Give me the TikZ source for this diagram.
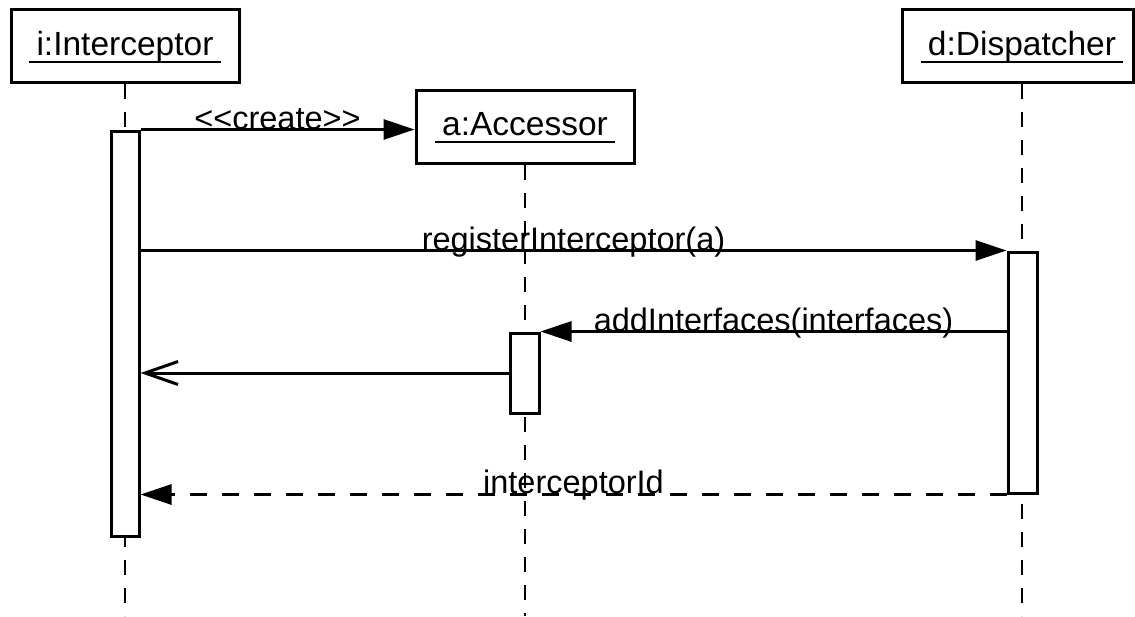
\documentclass[tikz,border=0pt]{standalone}
\usepackage{fontspec}
\setmainfont[Ligatures=NoCommon]{Liberation Sans}
\usetikzlibrary{arrows.meta}
\begin{document}
\begin{tikzpicture}[x=1pt,y=-1pt,
  objbox/.style={draw, line width=3pt, fill=white, rectangle, inner sep=0pt,
                 minimum width=#1, minimum height=73pt},
  objtext/.style={anchor=base, inner sep=0pt, font=\fontsize{33.5}{40}\selectfont},
  uline/.style={line width=1.8pt},
  lifeline/.style={line width=1.8pt, dash pattern=on 15pt off 13pt},
  actbox/.style={draw, line width=3pt, fill=white},
  call/.style={line width=3pt, -{Triangle[length=31pt,width=20pt]}},
  reply/.style={line width=3pt, -{Straight Barb[length=33pt,width=23pt]}},
  result/.style={line width=3pt, dash pattern=on 17pt off 15pt,
                 -{Triangle[length=31pt,width=20pt]}},
  msglabel/.style={anchor=base, inner sep=0pt, yshift=0.5pt,
                   font=\fontsize{32.5}{39}\selectfont}]
\useasboundingbox (0,0) rectangle (1135,616);

% participant boxes
\node[objbox=228pt] (I) at (125.5,46) {};
\node[objbox=218pt] (A) at (525,127) {};
\node[objbox=231pt] (D) at (1018,46) {};

% lifelines
\coordinate (Iend) at (125,616);
\coordinate (Aend) at (525,616);
\coordinate (Dend) at (1022,616);
\draw[lifeline] (I.south -| Iend) -- (Iend);
\draw[lifeline] (A.south) -- (Aend);
\draw[lifeline] (D.south -| Dend) -- (Dend);

% object names, underlined
\node[objtext] (It) at (125,55) {i:Interceptor};
\node[objtext] (At) at (525,135) {a:Accessor};
\node[objtext] (Dt) at (1022,55) {d:Dispatcher};
\foreach \t in {It,At,Dt}
  \draw[uline] ([xshift=-7pt,yshift=-7pt]\t.base west) -- ([xshift=7pt,yshift=-7pt]\t.base east);

% activation bars
\node[actbox, minimum width=28pt, minimum height=405pt, inner sep=0pt] (Ai) at (125,333.5) {};
\node[actbox, minimum width=29pt, minimum height=241pt, inner sep=0pt] (Ad) at (1022.5,372.5) {};
\node[actbox, minimum width=29pt, minimum height=80pt, inner sep=0pt] (Aa) at (524.5,373) {};

% messages
\draw[call] (Ai.north east) -- (Ai.north east -| A.west)
  node[msglabel, pos=0.5] (mcreate) {{<}{<}create{>}{>}};
\draw[call] (Ai.east |- Ad.north) -- (Ad.north west)
  node[msglabel, pos=0.5] (mreg) {registerInterceptor(a)};
\draw[call] (Ad.west |- Aa.north) -- (Aa.north east)
  node[msglabel, pos=0.5] (madd) {addInterfaces(interfaces)};
\draw[reply] (Aa.west) -- (Aa.west -| Ai.east);
\draw[result] (Ad.south west) -- (Ad.south west -| Ai.east)
  node[msglabel, pos=0.5, yshift=1pt] (mid) {interceptorId};
\end{tikzpicture}
\end{document}
